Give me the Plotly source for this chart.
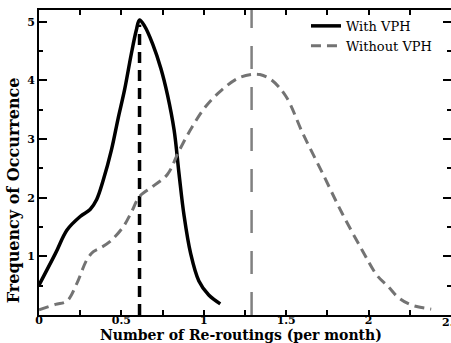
import plotly.graph_objects as go

# With VPH (solid black)
with_x = [0, 0.1, 0.17, 0.25, 0.31, 0.35, 0.39, 0.44, 0.48, 0.52, 0.56, 0.59, 0.61,
          0.64, 0.69, 0.74, 0.78, 0.82, 0.85, 0.88, 0.92, 0.97, 1.03, 1.1]
with_y = [0.51, 1.05, 1.45, 1.68, 1.8, 1.97, 2.3, 2.82, 3.35, 3.85, 4.45, 4.85, 5.03,
          4.93, 4.62, 4.2, 3.75, 3.15, 2.4, 1.7, 1.05, 0.58, 0.34, 0.19]

# Without VPH (dashed grey)
without_x = [0, 0.1, 0.17, 0.23, 0.29, 0.33, 0.37, 0.43, 0.51, 0.56, 0.61, 0.69, 0.78,
             0.85, 0.93, 1.01, 1.11, 1.21, 1.29, 1.34, 1.41, 1.5, 1.6, 1.72, 1.84, 1.96,
             2.05, 2.12, 2.18, 2.26, 2.38]
without_y = [0.09, 0.18, 0.24, 0.54, 0.94, 1.08, 1.14, 1.25, 1.5, 1.75, 2.02, 2.19, 2.4,
             2.8, 3.21, 3.55, 3.84, 4.04, 4.1, 4.1, 4.01, 3.72, 3.1, 2.42, 1.73, 1.11,
             0.68, 0.48, 0.3, 0.17, 0.1]

# Mean markers (vertical lines)
mean_with_x = [0.61, 0.61]
mean_with_y = [0, 4.95]
mean_without_x = [1.29, 1.29]
mean_without_y = [0, 5.2]

x_ticks = [0, 0.5, 1, 1.5, 2, 2.5]
x_tick_labels = ["0", "0.5", "1", "1.5", "2", "2.5"]
y_ticks = [1, 2, 3, 4, 5]
y_tick_labels = ["1", "2", "3", "4", "5"]

SERIF = "DejaVu Serif"

fig = go.Figure()
fig.add_trace(go.Scatter(x=mean_with_x, y=mean_with_y, mode="lines", showlegend=False,
                         line=dict(color="black", width=3.5, dash="11px,7px"), hoverinfo="skip"))
fig.add_trace(go.Scatter(x=mean_without_x, y=mean_without_y, mode="lines", showlegend=False,
                         line=dict(color="#808080", width=2.5, dash="23px,18px"), hoverinfo="skip"))
fig.add_trace(go.Scatter(x=with_x, y=with_y, mode="lines", name="With VPH",
                         line=dict(color="black", width=3.5, shape="spline", smoothing=1.0)))
fig.add_trace(go.Scatter(x=without_x, y=without_y, mode="lines", name="Without VPH",
                         line=dict(color="#737373", width=3, dash="10px,6px", shape="spline", smoothing=1.0)))
# right-side ticks carrier
fig.add_trace(go.Scatter(x=[None], y=[None], yaxis="y2", showlegend=False, hoverinfo="skip"))

fig.update_layout(
    width=451, height=343,
    margin=dict(l=39, r=0, t=10, b=28, autoexpand=False),
    paper_bgcolor="white", plot_bgcolor="white",
    font=dict(family=SERIF, color="black"),
    xaxis=dict(range=[0, 2.5], showgrid=False, zeroline=False, showline=True, linecolor="black",
               linewidth=2, mirror="allticks", ticks="inside", ticklen=5, tickwidth=2, tickcolor="black",
               tickvals=x_ticks, ticktext=x_tick_labels, automargin=False, ticklabelstandoff=-6,
               tickfont=dict(family=SERIF, size=11, color="black", weight="bold"),
               minor=dict(dtick=0.25, ticks="inside", ticklen=5, tickwidth=2, tickcolor="black")),
    yaxis=dict(range=[0, 5.2], showgrid=False, zeroline=False, showline=True, linecolor="black",
               linewidth=2, ticks="inside", ticklen=8, tickwidth=2, tickcolor="black",
               tickvals=y_ticks, ticktext=y_tick_labels, automargin=False,
               tickfont=dict(family=SERIF, size=11, color="black", weight="bold"),
               minor=dict(dtick=0.5, ticks="inside", ticklen=4, tickwidth=2, tickcolor="black")),
    yaxis2=dict(range=[0, 5.2], overlaying="y", side="right", showgrid=False, zeroline=False,
                showline=False, ticks="inside", ticklen=8, tickwidth=2, tickcolor="black",
                tickvals=y_ticks, showticklabels=False, automargin=False,
                minor=dict(dtick=0.5, ticks="inside", ticklen=4, tickwidth=2, tickcolor="black")),
    legend=dict(x=0.648, y=0.997, xanchor="left", yanchor="top", bgcolor="rgba(0,0,0,0)",
                font=dict(family=SERIF, size=13, color="black"), tracegroupgap=0),
    annotations=[
        dict(text="<b>Frequency of Occurrence</b>", xref="paper", yref="paper",
             x=-0.06, y=0.41, xanchor="center", yanchor="middle", textangle=-90,
             showarrow=False, font=dict(family=SERIF, size=16, color="black")),
        dict(text="<b>Number of Re-routings (per month)</b>", xref="paper", yref="paper",
             x=0.4915, y=-0.066, xanchor="center", yanchor="middle",
             showarrow=False, font=dict(family=SERIF, size=14, color="black")),
        dict(text="<b>2.5</b>", xref="x", yref="paper", x=2.5, y=-0.026,
             xanchor="center", yanchor="middle", showarrow=False,
             font=dict(family=SERIF, size=11, color="black")),
    ],
)

fig.write_html("out.html", post_script="document.body.style.margin='0';",
               config={"displayModeBar": False})
